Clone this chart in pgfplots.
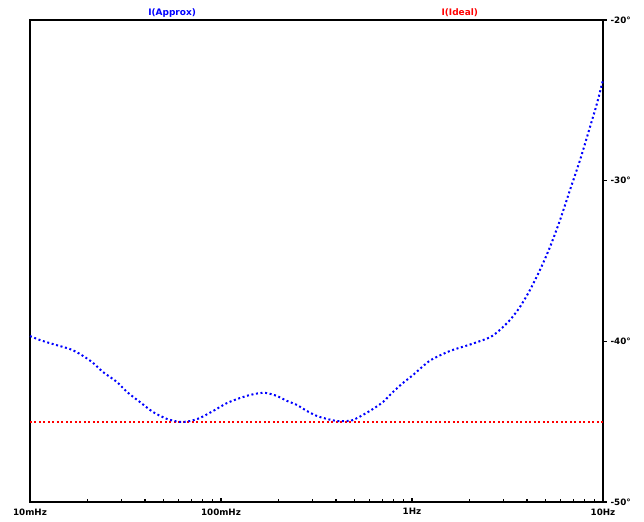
\documentclass[border=0pt]{standalone}
\usepackage{fontspec}
\setmainfont{DejaVu Sans}
\usepackage{pgfplots}
\pgfplotsset{compat=1.18}
\definecolor{ltblue}{RGB}{0,0,255}
\definecolor{ltred}{RGB}{255,0,0}
\begin{document}
\begin{tikzpicture}
\begin{axis}[
  at={(0,0)}, anchor=south west,
  scale only axis, width=573bp, height=482bp,
  xmode=log, xmin=0.01, xmax=10,
  ymin=-50, ymax=-20,
  axis line style={line width=1.6bp, black},
  xtick={0.01,0.1,1,10},
  xticklabels={10mHz,100mHz,1Hz,10Hz},
  ytick={-50,-40,-30,-20},
  yticklabels={-50°,-40°,-30°,-20°},
  xtick pos=bottom, ytick pos=right,
  xtick align=inside, ytick align=outside,
  major tick length=4bp, minor tick length=3bp,
  every tick/.style={black, line width=1.2bp},
  tick label style={font=\bfseries\fontsize{8.8}{10}\selectfont, black},
  xticklabel style={yshift=-3bp},
  yticklabel style={xshift=0bp},
  clip=false,
]
\addplot[ltred, line width=2bp, dash pattern=on 2bp off 2.5bp] coordinates {(0.01,-45) (10,-45)};
\addplot[ltblue, line width=2bp, dash pattern=on 2bp off 2.6bp, smooth, tension=0.4] coordinates {
(0.01,-39.67) (0.01128,-39.92) (0.01319,-40.17) (0.01619,-40.48) (0.01827,-40.79)
(0.02113,-41.29) (0.02411,-41.91) (0.02853,-42.53) (0.03219,-43.15) (0.03767,-43.78)
(0.04406,-44.40) (0.05213,-44.83) (0.06098,-45.02) (0.06886,-44.96) (0.07762,-44.77)
(0.09080,-44.34) (0.1075,-43.84) (0.1256,-43.53) (0.1418,-43.34) (0.1600,-43.22)
(0.1741,-43.22) (0.1963,-43.40) (0.2218,-43.71) (0.2500,-43.96) (0.2820,-44.34)
(0.3184,-44.65) (0.3590,-44.83) (0.4047,-44.96) (0.4567,-44.96) (0.4911,-44.90)
(0.5537,-44.58) (0.6250,-44.21) (0.7047,-43.78) (0.7955,-43.15) (0.8970,-42.59)
(1.012,-42.10) (1.241,-41.20) (1.580,-40.60) (2.012,-40.20) (2.560,-39.75)
(2.890,-39.28) (3.262,-38.67) (3.675,-37.86) (4.150,-36.80) (4.677,-35.56)
(5.280,-34.13) (5.959,-32.45) (6.719,-30.58) (7.586,-28.71) (8.551,-26.66)
(9.311,-25.17) (10,-23.73)
};
\node[font=\bfseries\fontsize{9}{10}\selectfont, text=ltblue] at (axis description cs:0.248,1) [yshift=7bp] {I(Approx)};
\node[font=\bfseries\fontsize{9}{10}\selectfont, text=ltred] at (axis description cs:0.750,1) [yshift=7bp] {I(Ideal)};
\end{axis}
\path[use as bounding box] (-30bp,-20bp) rectangle (614bp,502bp);
\end{tikzpicture}
\end{document}
